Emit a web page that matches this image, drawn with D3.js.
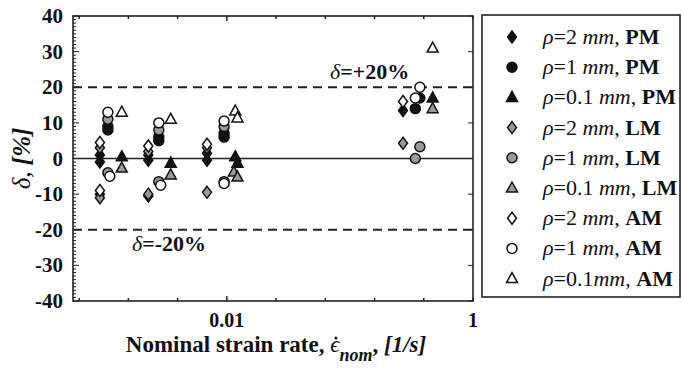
<!DOCTYPE html>
<html>
<head>
<meta charset="utf-8">
<script src="https://cdn.jsdelivr.net/npm/d3@7"></script>
</head>
<body style="margin:0">
<div id="chart"></div>
<script>

// axis ticks (log10 exponents for x), only two of them get a label
const xTickExp = [-3.2, -2.8, -2.4, -2.0, -1.6, -1.2, -0.8, -0.4, 0];
const xLabelled = [0.01, 1];
const yMajor = [-40, -30, -20, -10, 0, 10, 20, 30, 40];
const limits = [20, -20];

// [strain rate 1/s, delta %]
// rho = 2 mm
const diaPM = [[0.00093, 1], [0.00093, -1], [0.00093, -10], [0.0023, 1], [0.0023, -0.5], [0.0023, -10.5], [0.0069, 1.5], [0.0069, -0.5], [0.27, 13.5]];
const diaLM = [[0.00093, 3], [0.00093, -11], [0.0023, 2], [0.0023, -10], [0.0069, 3], [0.0069, -9.5], [0.27, 4.3]];
const diaAM = [[0.00093, 4.5], [0.00093, -9], [0.0023, 3.5], [0.0069, 4], [0.27, 16]];
// rho = 1 mm
const cirPM = [[0.00108, 9], [0.00108, 8], [0.0028, 6], [0.0028, 5], [0.0095, 7], [0.0095, 6], [0.34, 14], [0.37, 17]];
const cirLM = [[0.00108, 11], [0.00108, -4], [0.0028, 8], [0.0028, -6.5], [0.0095, 9], [0.0095, -6.5], [0.37, 3.3], [0.34, 0]];
const cirAM = [[0.00108, 13], [0.00112, -5], [0.0028, 10], [0.0029, -7.5], [0.0095, 10.5], [0.0095, -7], [0.37, 20], [0.34, 17]];
// rho = 0.1 mm
const triPM = [[0.0014, 0.5], [0.0035, -1.3], [0.0117, 0.5], [0.0122, -1.3], [0.47, 17]];
const triLM = [[0.0014, -2.7], [0.0035, -4.6], [0.0114, -3.8], [0.0122, -5.2], [0.47, 14]];
const triAM = [[0.0014, 13], [0.0035, 11], [0.0117, 13.3], [0.0122, 11.4], [0.47, 31]];

const legendRho = ["=2\u00A0", "=1\u00A0", "=0.1\u00A0", "=2\u00A0", "=1\u00A0", "=0.1\u00A0", "=2\u00A0", "=1\u00A0", "=0.1"];
const legendMat = ["PM", "PM", "PM", "LM", "LM", "LM", "AM", "AM", "AM"];


class StrainVis {

    constructor(parentElement) {
        this.parentElement = parentElement;
        this.series = [
            {data: diaPM, shape: "diamond", mat: "PM"},
            {data: cirPM, shape: "circle", mat: "PM"},
            {data: triPM, shape: "triangle", mat: "PM"},
            {data: diaLM, shape: "diamond", mat: "LM"},
            {data: cirLM, shape: "circle", mat: "LM"},
            {data: triLM, shape: "triangle", mat: "LM"},
            {data: diaAM, shape: "diamond", mat: "AM"},
            {data: cirAM, shape: "circle", mat: "AM"},
            {data: triAM, shape: "triangle", mat: "AM"}
        ];
        this.fills = {PM: "#111", LM: "#9a9a9a", AM: "#fff"};
        this.initVis();
    }

    initVis() {
        let vis = this;

        vis.margin = {top: 16, right: 209, bottom: 70, left: 73};
        vis.width = 682 - vis.margin.left - vis.margin.right;
        vis.height = 371 - vis.margin.top - vis.margin.bottom;

        vis.root = d3.select("#" + vis.parentElement).append("svg")
            .attr("width", 682)
            .attr("height", 371);

        vis.svg = vis.root.append("g")
            .attr("transform", `translate(${vis.margin.left}, ${vis.margin.top})`);

        vis.x = d3.scaleLog()
            .domain([Math.pow(10, -3.25), 1])
            .range([0, vis.width]);

        vis.y = d3.scaleLinear()
            .domain([-40, 40])
            .range([vis.height, 0]);

        vis.updateVis();
    }

    shapePath(shape) {
        if (shape === "diamond") return "M0,-6L4.5,0L0,6L-4.5,0Z";
        if (shape === "triangle") return "M0,-6L5.5,4L-5.5,4Z";
        return d3.symbol().type(d3.symbolCircle).size(78)();
    }

    // plain text element in the serif face
    addText(parent, size) {
        return parent.append("text")
            .attr("font-family", "Liberation Serif")
            .attr("font-size", size)
            .attr("fill", "#111");
    }

    updateVis() {
        let vis = this;
        let w = vis.width, h = vis.height;

        // minor y ticks every unit, inward on left side
        let yMinor = d3.range(-40, 41, 1);
        vis.svg.append("g").selectAll("line").data(yMinor).enter().append("line")
            .attr("x1", 0).attr("x2", d => yMajor.includes(d) ? 6 : 3)
            .attr("y1", d => vis.y(d)).attr("y2", d => vis.y(d))
            .attr("stroke", "#222").attr("stroke-width", 1);
        vis.svg.append("g").selectAll("line").data(yMajor).enter().append("line")
            .attr("x1", w).attr("x2", w - 5)
            .attr("y1", d => vis.y(d)).attr("y2", d => vis.y(d))
            .attr("stroke", "#222").attr("stroke-width", 1);

        // x ticks bottom and top
        let xt = xTickExp.map(e => Math.pow(10, e));
        [[h, -1], [0, 1]].forEach(([y0, dir]) => {
            vis.svg.append("g").selectAll("line").data(xt).enter().append("line")
                .attr("x1", d => vis.x(d)).attr("x2", d => vis.x(d))
                .attr("y1", y0).attr("y2", d => y0 + dir * (Math.abs(Math.log10(d) + 2) < 0.01 ? 5 : 3))
                .attr("stroke", "#222").attr("stroke-width", 1.5);
        });

        // tick labels
        vis.svg.append("g").selectAll("text").data(yMajor).enter().append("text")
            .attr("font-family", "Liberation Serif")
            .attr("x", -10).attr("y", d => vis.y(d) + 7)
            .attr("text-anchor", "end")
            .attr("font-size", 21).attr("font-weight", "bold")
            .attr("fill", "#111")
            .text(d => d);

        vis.svg.append("g").selectAll("text").data(xLabelled).enter().append("text")
            .attr("font-family", "Liberation Serif")
            .attr("x", d => vis.x(d)).attr("y", h + 26)
            .attr("text-anchor", "middle")
            .attr("font-size", 20).attr("font-weight", "bold")
            .attr("fill", "#111")
            .text(d => d);

        // limit lines and zero line
        vis.svg.append("g").selectAll("line").data(limits).enter().append("line")
            .attr("x1", 0).attr("x2", w)
            .attr("y1", d => vis.y(d)).attr("y2", d => vis.y(d))
            .attr("stroke", "#222").attr("stroke-width", 2)
            .attr("stroke-dasharray", "9,6");

        vis.svg.append("line")
            .attr("x1", 0).attr("x2", w)
            .attr("y1", vis.y(0)).attr("y2", vis.y(0))
            .attr("stroke", "#222").attr("stroke-width", 1.6);

        let lim1 = vis.addText(vis.svg, 22).attr("x", 257).attr("y", vis.y(20) - 8);
        lim1.append("tspan").attr("font-style", "italic").text("δ");
        lim1.append("tspan").attr("font-weight", "bold").text("=+20%");
        let lim2 = vis.addText(vis.svg, 22).attr("x", 59).attr("y", vis.y(-20) + 21);
        lim2.append("tspan").attr("font-style", "italic").text("δ");
        lim2.append("tspan").attr("font-weight", "bold").text("=-20%");

        // frame
        vis.svg.append("rect")
            .attr("width", w).attr("height", h)
            .attr("fill", "none").attr("stroke", "#222").attr("stroke-width", 1.6);

        // points
        vis.series.forEach(s => {
            vis.svg.append("g").selectAll("path").data(s.data).enter().append("path")
                .attr("d", vis.shapePath(s.shape))
                .attr("transform", d => `translate(${vis.x(d[0])}, ${vis.y(d[1])})`)
                .attr("fill", vis.fills[s.mat])
                .attr("stroke", "#111").attr("stroke-width", 1.5);
        });

        // axis titles
        let yt = vis.addText(vis.root, 25)
            .attr("transform", `translate(30, ${vis.margin.top + vis.y(0)}) rotate(-90)`)
            .attr("text-anchor", "middle");
        yt.append("tspan").attr("font-style", "italic").text("δ,\u00A0");
        yt.append("tspan").attr("font-style", "italic").attr("font-weight", "bold").text("[%]");

        let lead = "Nominal strain rate,\u00A0";
        let xtl = vis.addText(vis.root, 23)
            .attr("x", vis.margin.left + w / 2 + 3).attr("y", 352)
            .attr("text-anchor", "middle").attr("font-weight", "bold");
        xtl.append("tspan").text(lead);
        xtl.append("tspan").attr("font-style", "italic").attr("font-weight", "normal").text("ϵ");
        xtl.append("tspan").attr("font-style", "italic").attr("font-size", 18).attr("dy", 9).text("nom");
        xtl.append("tspan").attr("dy", -9).text(",\u00A0");
        xtl.append("tspan").attr("font-style", "italic").text("[1/s]");

        // dot over epsilon
        let ext = xtl.node().getExtentOfChar(lead.length);
        vis.root.append("circle")
            .attr("cx", ext.x + ext.width / 2 + 1)
            .attr("cy", ext.y + ext.height * 0.24)
            .attr("r", 1.5).attr("fill", "#111");

        // legend
        let lg = vis.root.append("g");
        lg.append("rect")
            .attr("x", 482).attr("y", 15).attr("width", 198).attr("height", 282)
            .attr("fill", "none").attr("stroke", "#222").attr("stroke-width", 1.6);

        vis.series.forEach((s, i) => {
            let cy = 37 + i * 30.2;
            lg.append("path")
                .attr("d", vis.shapePath(s.shape))
                .attr("transform", `translate(512, ${cy})`)
                .attr("fill", vis.fills[s.mat])
                .attr("stroke", "#111").attr("stroke-width", 1.5);
            let t = vis.addText(lg, 22).attr("x", 543).attr("y", cy + 7);
            t.append("tspan").attr("font-style", "italic").text("ρ");
            t.append("tspan").text(legendRho[i]);
            t.append("tspan").attr("font-style", "italic").text("mm");
            t.append("tspan").text(",\u00A0");
            t.append("tspan").attr("font-weight", "bold").text(legendMat[i]);
        });
    }
}

new StrainVis("chart");

</script>
</body>
</html>
